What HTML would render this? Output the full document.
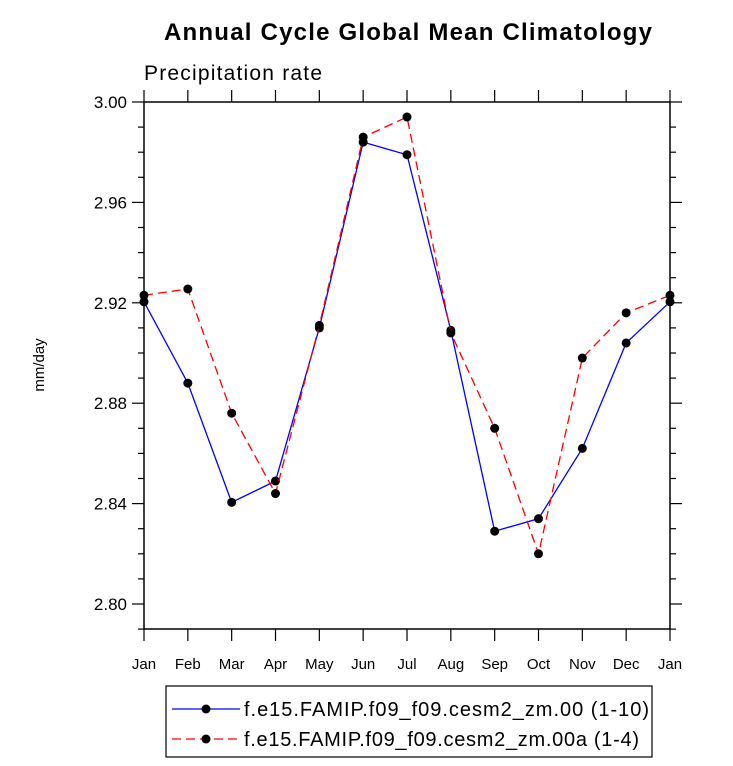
<!DOCTYPE html>
<html><head><meta charset="utf-8"><style>body{margin:0;background:#fff}svg{display:block}text{font-family:"Liberation Sans",Arial,sans-serif}</style></head>
<body>
<svg id="c" width="733" height="766" xmlns="http://www.w3.org/2000/svg">
<text x="408" y="40" text-anchor="middle" font-size="24" font-weight="bold" textLength="488">Annual Cycle Global Mean Climatology</text>
<text x="144" y="80" font-size="21" textLength="178">Precipitation rate</text>
<text transform="translate(44,365) rotate(-90)" text-anchor="middle" font-size="15">mm/day</text>
<g id="axes"></g>
<g id="series"></g>
<rect x="166" y="686" width="486" height="71" fill="none" stroke="#000" stroke-width="1.2"/>
<g>
<line x1="172" y1="709" x2="240" y2="709" stroke="#0000ff" stroke-width="1.2"/><circle cx="206" cy="709" r="4.5"/>
<text x="244" y="716" font-size="20" textLength="405">f.e15.FAMIP.f09_f09.cesm2_zm.00 (1-10)</text></g>
<g>
<line x1="172" y1="739" x2="240" y2="739" stroke="#ff0000" stroke-width="1.2" stroke-dasharray="9,5"/><circle cx="206" cy="739" r="4.5"/>
<text x="244" y="746" font-size="20" textLength="395">f.e15.FAMIP.f09_f09.cesm2_zm.00a (1-4)</text></g>
</svg>
<script>
const months=["Jan","Feb","Mar","Apr","May","Jun","Jul","Aug","Sep","Oct","Nov","Dec","Jan"];
const yTicks=[2.80,2.84,2.88,2.92,2.96,3.00];
const blueVals=[2.9204,2.888,2.8405,2.849,2.910,2.984,2.979,2.909,2.829,2.834,2.862,2.904,2.9204];
const redVals=[2.923,2.9255,2.876,2.844,2.911,2.986,2.994,2.908,2.870,2.820,2.898,2.916,2.923];
const NS="http://www.w3.org/2000/svg";
const X0=144,X1=670,Y0=102,Y1=629;
const yMax=3.0;
const xs=i=>X0+i*(X1-X0)/12;
const ys=v=>Y0+(yMax-v)*2510;
const axes=document.getElementById('axes'),ser=document.getElementById('series');
function mk(tag,attrs,parent){const e=document.createElementNS(NS,tag);for(const k in attrs)e.setAttribute(k,attrs[k]);parent.appendChild(e);return e;}
const fr=mk('rect',{x:X0,y:Y0,width:X1-X0,height:Y1-Y0,fill:'none',stroke:'#000','stroke-width':1.5},axes);


months.forEach((m,i)=>{const x=xs(i);
 mk('line',{x1:x,x2:x,y1:Y0,y2:Y0-12,stroke:'#000','stroke-width':1.2},axes);
 mk('line',{x1:x,x2:x,y1:Y1,y2:Y1+12,stroke:'#000','stroke-width':1.2},axes);
 const t=mk('text',{x:x,y:669,'text-anchor':'middle','font-size':15},axes);t.textContent=m;
 
 
});
for(let v=2.79;v<=3.0001;v+=0.01){const y=ys(v);if(y>Y1+0.5)continue;
 const major=yTicks.some(t=>Math.abs(t-v)<1e-6);const L=major?12:6;
 mk('line',{x1:X0,x2:X0-L,y1:y,y2:y,stroke:'#000','stroke-width':1.2},axes);
 mk('line',{x1:X1,x2:X1+L,y1:y,y2:y,stroke:'#000','stroke-width':1.2},axes);}
yTicks.forEach(v=>{const t=mk('text',{x:127,y:ys(v)+6,'text-anchor':'end','font-size':17},axes);t.textContent=v.toFixed(2);
 
 });
function draw(vals,color,dash,name){
 const p=mk('polyline',{points:vals.map((v,i)=>xs(i)+','+ys(v)).join(' '),fill:'none',stroke:color,'stroke-width':1.3,'stroke-dasharray':dash},ser);
 
 
 vals.forEach((v,i)=>{const c=mk('circle',{cx:xs(i),cy:ys(v),r:4.5,fill:'#000'},ser);
  
  });
}
draw(blueVals,'#0000ff','none','series-00');
draw(redVals,'#ff0000','9,5','series-00a');
</script>
</body></html>
